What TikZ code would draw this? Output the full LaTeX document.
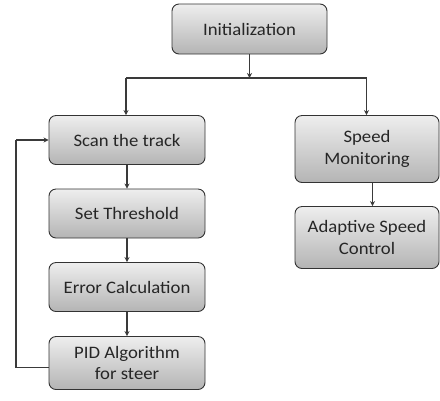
\documentclass[tikz,border=0pt]{standalone}
\usepackage{fontspec}
\setmainfont{Carlito}[FakeStretch=1.07]
\usetikzlibrary{arrows.meta}
\definecolor{boxtop}{HTML}{EEEEEE}
\definecolor{boxbot}{HTML}{B4B4B4}
\definecolor{edgec}{HTML}{333333}
\definecolor{linec}{HTML}{3A3A3A}
\tikzset{
  flowbox/.style={draw=edgec, line width=0.9bp, rounded corners=7bp,
    top color=boxtop, bottom color=boxbot, align=center,
    font=\fontsize{17.5bp}{21.5bp}\selectfont, text=black!85, inner sep=0pt},
  conn/.style={draw=linec, line width=1.3bp},
  arr/.style={conn, -{Stealth[length=5bp,width=5bp]}}
}
\begin{document}
\begin{tikzpicture}[x=1bp,y=-1bp]
\useasboundingbox (0,0) rectangle (440,400);
\node[flowbox, minimum width=155bp, minimum height=50bp] (init) at (249.5,29) {Initialization};
\node[flowbox, minimum width=156bp, minimum height=49bp] (scan) at (127,140) {Scan the track};
\node[flowbox, minimum width=156bp, minimum height=49bp] (thr) at (127,213.5) {Set Threshold};
\node[flowbox, minimum width=156bp, minimum height=49bp] (err) at (127,287) {Error Calculation};
\node[flowbox, minimum width=156bp, minimum height=53bp] (pid) at (127,363) {PID Algorithm\\for steer};
\node[flowbox, minimum width=144bp, minimum height=67bp] (spd) at (367,149) {Speed\\Monitoring};
\node[flowbox, minimum width=144bp, minimum height=62bp] (ada) at (367,237.5) {Adaptive Speed\\Control};
\coordinate (j) at (249.5,78);
\coordinate (jl) at (126,78);
\coordinate (jr) at (366.5,78);
\coordinate (fb1) at (16,367.5);
\coordinate (fb2) at (16,140);
\draw[arr] (init.south) -- (j);
\draw[conn] (jl) -- (jr);
\draw[arr] (jl) -- (jl |- scan.north);
\draw[arr] (jr) -- (jr |- spd.north);
\draw[arr] (scan) -- (thr);
\draw[arr] (thr) -- (err);
\draw[arr] (err) -- (pid);
\draw[arr] ([xshift=5.5bp]spd.south) -- ([xshift=5.5bp]ada.north);
\draw[conn] (pid.west |- fb1) -- (fb1) -- (fb2);
\draw[arr] (fb2) -- (scan.west);
\end{tikzpicture}
\end{document}
